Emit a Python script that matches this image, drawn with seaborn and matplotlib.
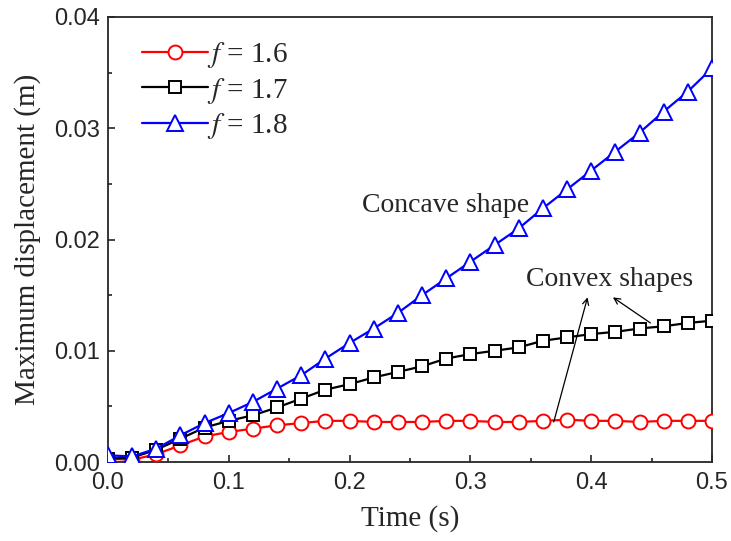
import numpy as np
import pandas as pd
import matplotlib
matplotlib.use("Agg")
import matplotlib.pyplot as plt
import seaborn as sns
from matplotlib.ticker import MultipleLocator

# data
time = [0.00, 0.02, 0.04, 0.06, 0.08, 0.10, 0.12, 0.14, 0.16, 0.18, 0.20, 0.22, 0.24,
        0.26, 0.28, 0.30, 0.32, 0.34, 0.36, 0.38, 0.40, 0.42, 0.44, 0.46, 0.48, 0.50]
disp_16 = [0.0003, 0.0002, 0.0007, 0.0015, 0.0023, 0.0027, 0.0030, 0.0033, 0.0035, 0.0037,
           0.0037, 0.0036, 0.0036, 0.0036, 0.0037, 0.0037, 0.0036, 0.0036, 0.0037, 0.0038,
           0.0037, 0.0037, 0.0036, 0.0037, 0.0037, 0.0037]
disp_17 = [0.0003, 0.0004, 0.0011, 0.0021, 0.0031, 0.0037, 0.0042, 0.0049, 0.0057, 0.0065,
           0.0070, 0.0076, 0.0081, 0.0086, 0.0093, 0.0097, 0.0100, 0.0103, 0.0109, 0.0112,
           0.0115, 0.0117, 0.0120, 0.0122, 0.0125, 0.0127]
disp_18 = [0.0006, 0.0005, 0.0012, 0.0024, 0.0035, 0.0044, 0.0054, 0.0066, 0.0078, 0.0093,
           0.0107, 0.0120, 0.0134, 0.0150, 0.0165, 0.0180, 0.0195, 0.0210, 0.0228, 0.0245,
           0.0262, 0.0279, 0.0296, 0.0315, 0.0333, 0.0354]
labels = [r"$f$ = 1.6", r"$f$ = 1.7", r"$f$ = 1.8"]

sns.set_style("ticks")
plt.rcParams['font.family'] = ['Liberation Sans', 'DejaVu Sans']
plt.rcParams['mathtext.fontset'] = 'stix'
plt.rcParams['xtick.direction'] = 'in'
plt.rcParams['ytick.direction'] = 'in'

fig = plt.figure(figsize=(7.31, 5.41), dpi=100)
ax = fig.add_axes([0.1477, 0.146, 0.8263, 0.8226])

styles = [
    (disp_16, 'red', 'o', 10),
    (disp_17, 'black', 's', 9),
    (disp_18, 'blue', '^', 11.5),
]
for (vals, col, mk, ms), lab in zip(styles, labels):
    sns.lineplot(x=time, y=vals, ax=ax, color=col, marker=mk, markersize=ms,
                 markerfacecolor='white', markeredgecolor=col, markeredgewidth=1.4,
                 linewidth=1.6, label=lab, zorder=3)

ax.set_xlim(0, 0.5)
ax.set_ylim(0, 0.04)
ax.xaxis.set_major_locator(MultipleLocator(0.1))
ax.xaxis.set_minor_locator(MultipleLocator(0.05))
ax.yaxis.set_major_locator(MultipleLocator(0.01))
ax.yaxis.set_minor_locator(MultipleLocator(0.005))
ax.xaxis.set_major_formatter(plt.FuncFormatter(lambda v, p: f"{v:.1f}"))
ax.yaxis.set_major_formatter(plt.FuncFormatter(lambda v, p: f"{v:.2f}"))
ax.tick_params(which='major', length=5, width=1.2, labelsize=17)
ax.tick_params(axis='x', which='major', pad=7)
ax.tick_params(axis='y', which='major', pad=6)
ax.tick_params(which='minor', length=3, width=1.2)
for sp in ax.spines.values():
    sp.set_linewidth(1.3)

serif = ['Liberation Serif', 'DejaVu Serif']
ax.set_xlabel("Time (s)", fontsize=21, family=serif, labelpad=8)
ax.set_ylabel("Maximum displacement (m)", fontsize=21, family=serif, labelpad=9)

leg = ax.legend(loc='upper left', frameon=False, handlelength=2.25, handletextpad=-0.05,
                labelspacing=0.18, borderaxespad=0.2, bbox_to_anchor=(0.028, 0.987),
                prop={'family': serif, 'size': 21})

ax.text(0.21, 0.0231, "Concave shape", fontsize=20, family=serif, va='center', ha='left')
ax.text(0.415, 0.0164, "Convex shapes", fontsize=20, family=serif, va='center', ha='center')
arrow = dict(arrowstyle='->', lw=0.9, color='black', mutation_scale=11, shrinkA=0, shrinkB=0)
ax.annotate("", xy=(0.397, 0.0148), xytext=(0.369, 0.0036), arrowprops=arrow)
ax.annotate("", xy=(0.418, 0.0148), xytext=(0.449, 0.0125), arrowprops=arrow)

fig.savefig("out.png", dpi=100)
